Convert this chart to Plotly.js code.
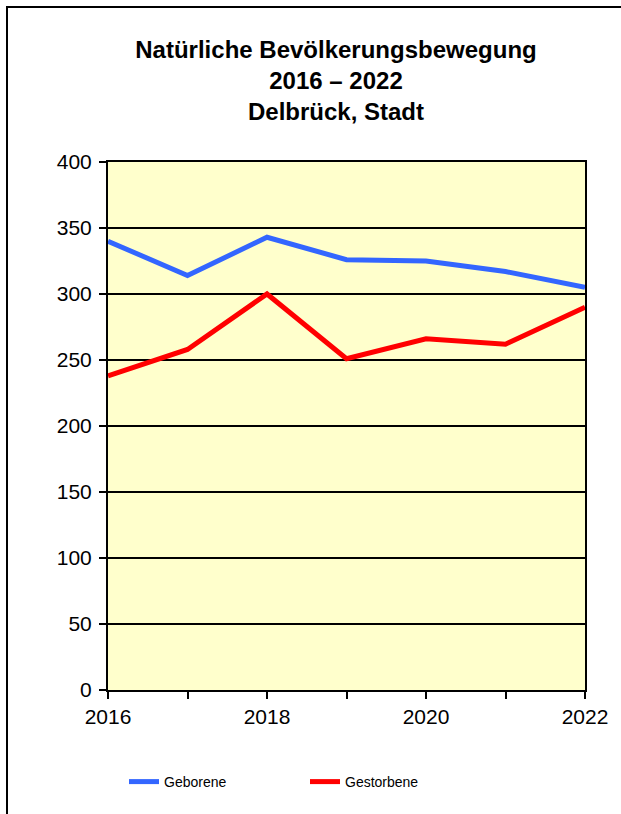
<!DOCTYPE html>
<html>
<head>
<meta charset="utf-8">
<script src="https://cdn.plot.ly/plotly-3.0.1.min.js"></script>
<style>
html,body{margin:0;padding:0;background:#fff;overflow:hidden;width:621px;height:814px;}
#wrap{position:relative;width:621px;height:814px;overflow:hidden;}
.fl{position:absolute;background:#000;pointer-events:none;z-index:5;}
#ftop{left:6px;top:6px;width:640px;height:2px;}
#fleft{left:6px;top:6px;width:2px;height:840px;}
#chart{position:absolute;left:0;top:0;width:621px;height:814px;}
</style>
</head>
<body>
<div id="wrap">
<div id="chart"></div>
<div id="ftop" class="fl"></div>
<div id="fleft" class="fl"></div>
</div>
<script>
const years = [2016, 2017, 2018, 2019, 2020, 2021, 2022];
const geborene = [340, 314, 343, 326, 325, 317, 305];
const gestorbene = [238, 258, 300, 251, 266, 262, 290];
const yTicks = [0, 50, 100, 150, 200, 250, 300, 350, 400];
const xTickLabels = ['2016', '', '2018', '', '2020', '', '2022'];

const traces = [
  {x: years, y: geborene, name: 'Geborene', type: 'scatter', mode: 'lines',
   line: {color: '#3366FF', width: 5}},
  {x: years, y: gestorbene, name: 'Gestorbene', type: 'scatter', mode: 'lines',
   line: {color: '#FF0000', width: 5}}
];

const font = 'Liberation Sans, Arial, sans-serif';
const layout = {
  width: 621, height: 814,
  margin: {l: 108, r: 36, t: 162, b: 124},
  paper_bgcolor: 'rgba(0,0,0,0)',
  plot_bgcolor: '#FFFFCC',
  font: {family: font, color: '#000'},
  title: {
    text: '<b>Natürliche Bevölkerungsbewegung<br>2016 – 2022<br>Delbrück, Stadt</b>',
    font: {family: font, size: 24, color: '#000'},
    x: 0.478, xref: 'paper', xanchor: 'center',
    y: 1 - 58/814, yref: 'container', yanchor: 'middle'
  },
  xaxis: {
    range: [2016, 2022], tickmode: 'array', tickvals: years, ticktext: xTickLabels,
    ticks: 'outside', ticklen: 7, tickwidth: 2, tickcolor: '#000',
    showgrid: false, zeroline: false,
    showline: true, linecolor: '#000', linewidth: 2, mirror: true,
    tickfont: {family: font, size: 21, color: '#000'}
  },
  yaxis: {
    range: [0, 400], tickmode: 'array', tickvals: yTicks,
    ticks: 'outside', ticklen: 7, tickwidth: 2, tickcolor: '#000',
    showgrid: true, gridcolor: '#000', gridwidth: 2, zeroline: false,
    showline: true, linecolor: '#000', linewidth: 2, mirror: true,
    ticklabelstandoff: 3,
    tickfont: {family: font, size: 21, color: '#000'}
  },
  legend: {
    orientation: 'h', x: (124-108)/477, xanchor: 'left', y: 1 - 782/814, yref: 'container', yanchor: 'middle',
    font: {family: font, size: 14, color: '#000'},
    entrywidth: 136, entrywidthmode: 'pixels', bgcolor: 'rgba(0,0,0,0)'
  },
  showlegend: true
};

Plotly.newPlot('chart', traces, layout, {displayModeBar: false, staticPlot: true});
</script>
</body>
</html>
